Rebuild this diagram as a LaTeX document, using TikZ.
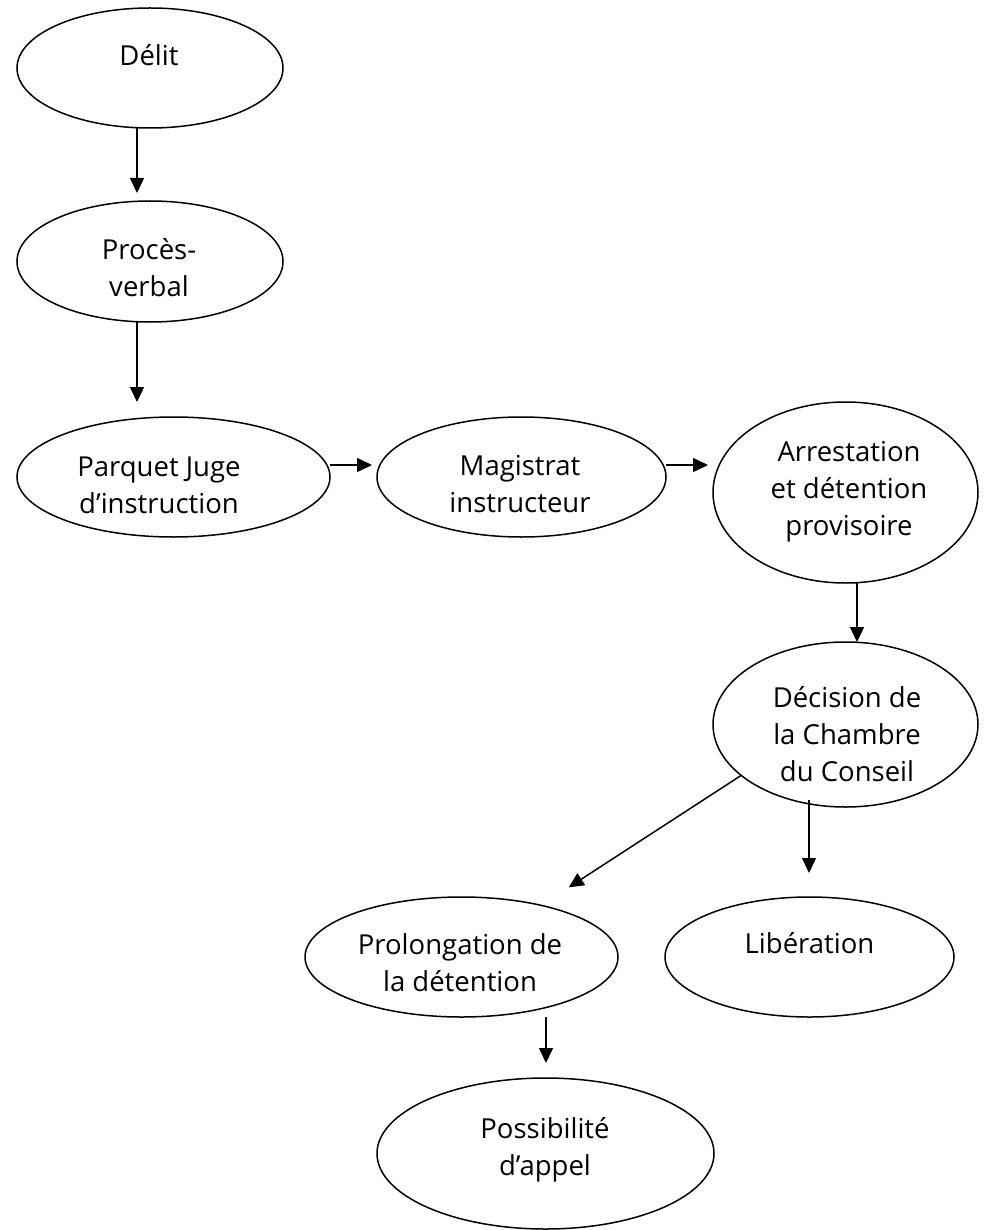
\documentclass[tikz,border=0pt]{standalone}
\usepackage{fontspec}
\setmainfont{Open Sans}
\usetikzlibrary{shapes.geometric,arrows.meta,calc}
\tikzset{
  ell/.style={draw, ellipse, line width=1.5pt, inner sep=0pt, outer sep=0pt},
  lbl/.style={align=center, inner sep=0pt, font=\fontsize{27.5}{37}\selectfont},
  arr/.style={line width=1.5pt, -{Triangle[length=15pt,width=14pt]}}
}
\begin{document}
\begin{tikzpicture}[x=1pt,y=-1pt]
\useasboundingbox (0,0) rectangle (987,1230);
% ellipses
\node[ell, minimum width=266pt, minimum height=120pt] (delit) at (150,68) {};
\node[ell, minimum width=266pt, minimum height=121pt] (proces) at (150,261.5) {};
\node[ell, minimum width=313pt, minimum height=120pt] (parquet) at (173.5,477) {};
\node[ell, minimum width=289pt, minimum height=120pt] (magistrat) at (521.5,477) {};
\node[ell, minimum width=265pt, minimum height=181pt] (arrest) at (845.5,492.5) {};
\node[ell, minimum width=265pt, minimum height=165pt] (decision) at (845.5,724.5) {};
\node[ell, minimum width=289pt, minimum height=120pt] (liber) at (809.5,957) {};
\node[ell, minimum width=313pt, minimum height=120pt] (prolong) at (461.5,957) {};
\node[ell, minimum width=337pt, minimum height=151pt] (possib) at (545.5,1153.5) {};
% texts
\node[lbl] (tdelit) at (149,55) {Délit};
\node[lbl] (tproces) at (149,268) {Procès-\\verbal};
\node[lbl] (tparquet) at (159,485) {Parquet Juge\\d’instruction};
\node[lbl] (tmagistrat) at (520,484) {Magistrat\\instructeur};
\node[lbl] (tarrest) at (849,492) {Arrestation\\et détention\\provisoire};
\node[lbl] (tdecision) at (847,734) {Décision de\\la Chambre\\du Conseil};
\node[lbl] (tliber) at (809.5,943) {Libération};
\node[lbl] (tprolong) at (460,963) {Prolongation de\\la détention};
\node[lbl] (tpossib) at (545,1150) {Possibilité\\d’appel};
% connectors
\draw[arr, shorten >=8pt] ([xshift=-13pt]delit.south) -- ([xshift=-13pt]delit.south |- proces.north);
\draw[arr, shorten >=15pt] ([xshift=-13pt]proces.south) -- ([xshift=-13pt]proces.south |- parquet.north);
\draw[arr, shorten >=5pt] ([yshift=12pt]parquet.east) -- ([yshift=12pt]parquet.east -| magistrat.west);
\draw[arr, shorten >=5pt] ([yshift=12pt]magistrat.east) -- ([yshift=12pt]magistrat.east -| arrest.west);
\draw[arr] ([xshift=11.5pt]arrest.south) -- ([xshift=11.5pt]arrest.south |- decision.north);
\draw[arr, shorten <=-7pt, shorten >=24pt] ([xshift=-36.5pt]decision.south) -- ([xshift=-36.5pt]decision.south |- liber.north);
\draw[arr, shorten >=33pt] (decision.206.5) -- (prolong);
\draw[arr, shorten >=15pt] ([xshift=84.5pt]prolong.south) -- ([xshift=84.5pt]prolong.south |- possib.north);
\end{tikzpicture}
\end{document}
